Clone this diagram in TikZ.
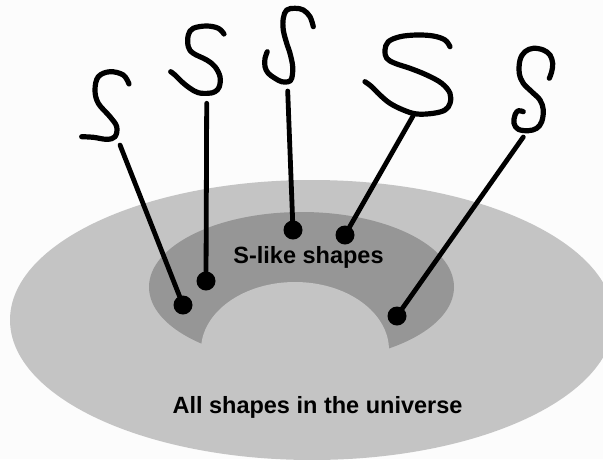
\documentclass[tikz,border=0pt]{standalone}
\usepackage{fontspec}
\setmainfont{Liberation Sans}
\usetikzlibrary{positioning}
\definecolor{outerGray}{HTML}{C4C4C4}
\definecolor{innerGray}{HTML}{969696}
\definecolor{paperWhite}{HTML}{FCFCFC}
\tikzset{
  sLine/.style={line width=5.2pt, line cap=round, line join=round},
  stem/.style={line width=4.8pt, line cap=round},
  endDot/.style={circle, fill=black, inner sep=0pt, minimum size=19pt},
  setLabel/.style={font=\bfseries\fontsize{23.5}{28}\selectfont, inner sep=0pt, anchor=base},
}

\begin{document}
\begin{tikzpicture}[x=1pt, y=-1pt]
    \clip (0,0) rectangle (603,459);
    \fill[paperWhite] (0,0) rectangle (603,459);
    % the two sets and the hole
    \fill[outerGray] (312,320) ellipse [x radius=302, y radius=140];
    \fill[innerGray] (301.5,287) ellipse [x radius=152.5, y radius=75];
    \fill[outerGray] (295,350) ellipse [x radius=94, y radius=68];
    \node[setLabel] (inner) at (308.5,263) {S-like shapes};
    \node[setLabel] (outer) at (317.5,413) {All shapes in the universe};
    % dots
    \node[endDot] (d1) at (183,305) {};
    \node[endDot] (d2) at (206,281) {};
    \node[endDot] (d3) at (293,230) {};
    \node[endDot] (d4) at (345,235) {};
    \node[endDot] (d5) at (397,316) {};
    % hand drawn S shapes
    \draw[sLine] plot[smooth, tension=0.6] coordinates {(129,84) (123.3,75) (110,71.7)
      (98.3,76.7) (95,90) (98.3,103.3) (110,116.7) (116.7,126.7) (115,136.7)
      (106.7,139.3) (93.3,137.3) (81.7,136.7)};
    \draw[sLine] plot[smooth, tension=0.6] coordinates {(224,34) (218.3,28.3) (206.7,26)
      (193.3,28.3) (188.3,35) (188.3,46.7) (193.3,53.3) (206.7,60) (215,66.7)
      (220,76.7) (219.3,86.7) (215,91.7) (208.3,93.3) (198.3,92.7) (190,88.3)
      (181.7,81.7) (175,75) (170.7,71.7)};
    \draw[sLine] plot[smooth, tension=0.6] coordinates {(313.3,26.7) (310,16.7) (303.3,10)
      (295,8.3) (286.7,10) (283.3,18.3) (283.3,30) (286.7,43.3) (290,53.3)
      (292.7,66.7) (291.7,78.3) (288.3,81.7) (281.7,81.7) (275,78.3) (268.3,73.3)
      (265,66.7) (265,58.3) (267.3,51.7)};
    \draw[sLine] plot[smooth, tension=0.6] coordinates {(450,46.7) (445,40) (433.3,36)
      (416.7,35) (400,36.7) (388.3,41.7) (385,50) (386.7,58.3) (395,63.3)
      (410,68.3) (426.7,75) (441.7,83.3) (450,93.3) (450,103.3) (445,110)
      (433.3,113.3) (416.7,114) (403.3,110) (390,103.3) (380,95) (371.7,86.7)
      (365,81.7)};
    \draw[sLine] plot[smooth, tension=0.6] coordinates {(549.3,78.3) (551.7,71.7) (552.7,63.3)
      (550,55) (543.3,50) (533.3,48.3) (525,51.7) (520,60) (519.3,73.3)
      (523.3,83.3) (531.7,91.7) (540,100) (543.3,110) (541.7,121.7) (536.7,128.3)
      (528.3,130.7) (518.3,129.3) (514,123.3) (515,115) (518.3,110.7) (523.3,111.7)};
    % sticks from each S to its dot
    \coordinate (t1) at (120,145);
    \coordinate (t2) at (206.7,103.3);
    \coordinate (t3) at (287.7,91);
    \coordinate (t4) at (413.3,115.5);
    \coordinate (t5) at (523.3,137);
    \draw[stem] (t1) -- (d1.center);
    \draw[stem] (t2) -- (d2.center);
    \draw[stem] (t3) -- (d3.center);
    \draw[stem] (t4) -- (d4.center);
    \draw[stem] (t5) -- (d5.center);
\end{tikzpicture}
\end{document}
